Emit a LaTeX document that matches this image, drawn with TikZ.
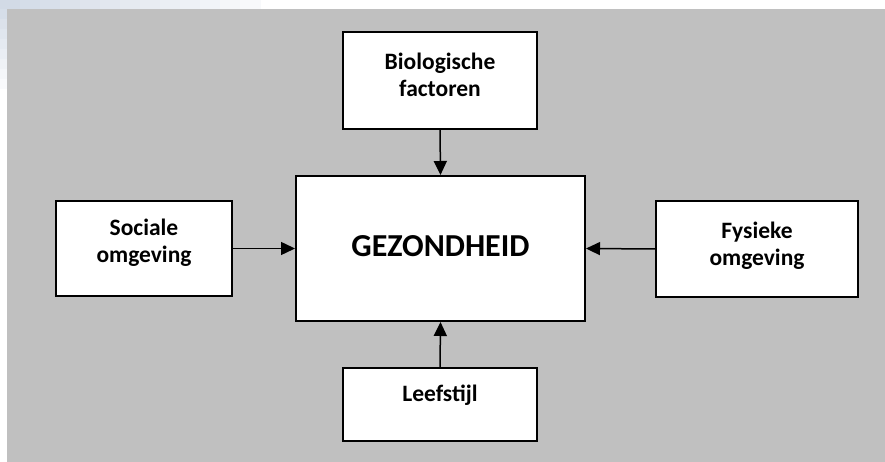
\documentclass[tikz,border=0pt]{standalone}
\usepackage{fontspec}
\setmainfont{Carlito}
\usetikzlibrary{arrows.meta}
\definecolor{bggray}{RGB}{192,192,192}
\definecolor{haze}{RGB}{210,218,230}
\begin{document}
\begin{tikzpicture}[x=1pt,y=1pt,
  box/.style={draw=black,line width=2pt,fill=white,rectangle,inner sep=0pt},
  lbl/.style={font=\fontsize{23.5}{27}\selectfont\bfseries,align=center,inner sep=0pt},
  big/.style={font=\fontsize{32}{38}\selectfont\bfseries,inner sep=0pt},
  conn/.style={line width=1.5pt,-{Triangle[length=14pt,width=13pt]}}]
\useasboundingbox (0,0) rectangle (885,462);
\fill[white] (0,0) rectangle (885,462);
\foreach \i in {0,...,12} {
  \pgfmathsetmacro{\p}{100-\i*7}
  \fill[haze!\p!white] (\i*20,453) rectangle (\i*20+20.5,462);
}
\foreach \i in {0,...,7} {
  \pgfmathsetmacro{\p}{90-\i*11}
  \fill[haze!\p!white] (0,453-\i*10) rectangle (7,443-\i*10);
}
\fill[bggray] (7,0) rectangle (885,453);
% boxes
\node[box,minimum width=194pt,minimum height=97pt] (bio) at (440,381.5) {};
\node[box,minimum width=289pt,minimum height=145pt] (cent) at (440.5,213.5) {};
\node[box,minimum width=176pt,minimum height=95pt] (soc) at (144,213.5) {};
\node[box,minimum width=202pt,minimum height=96pt] (fys) at (757,213) {};
\node[box,minimum width=194pt,minimum height=73pt] (leef) at (440,57.5) {};
% texts
\node[lbl] (biot) at (440,387) {Biologische\\factoren};
\node[big,anchor=base] (centt) at (440.5,205.3) {GEZONDHEID};
\node[lbl] (soct) at (144,219) {Sociale\\omgeving};
\node[lbl] (fyst) at (757,216) {Fysieke\\omgeving};
\node[lbl,anchor=base] (leeft) at (440,60) {Leefstijl};
% connectors
\draw[conn] (bio.south) -- (cent.north);
\draw[conn] (leef.north) -- (cent.south);
\draw[conn] (soc.east) -- (cent.west);
\draw[conn] (fys.west) -- (cent.east);
\end{tikzpicture}
\end{document}
